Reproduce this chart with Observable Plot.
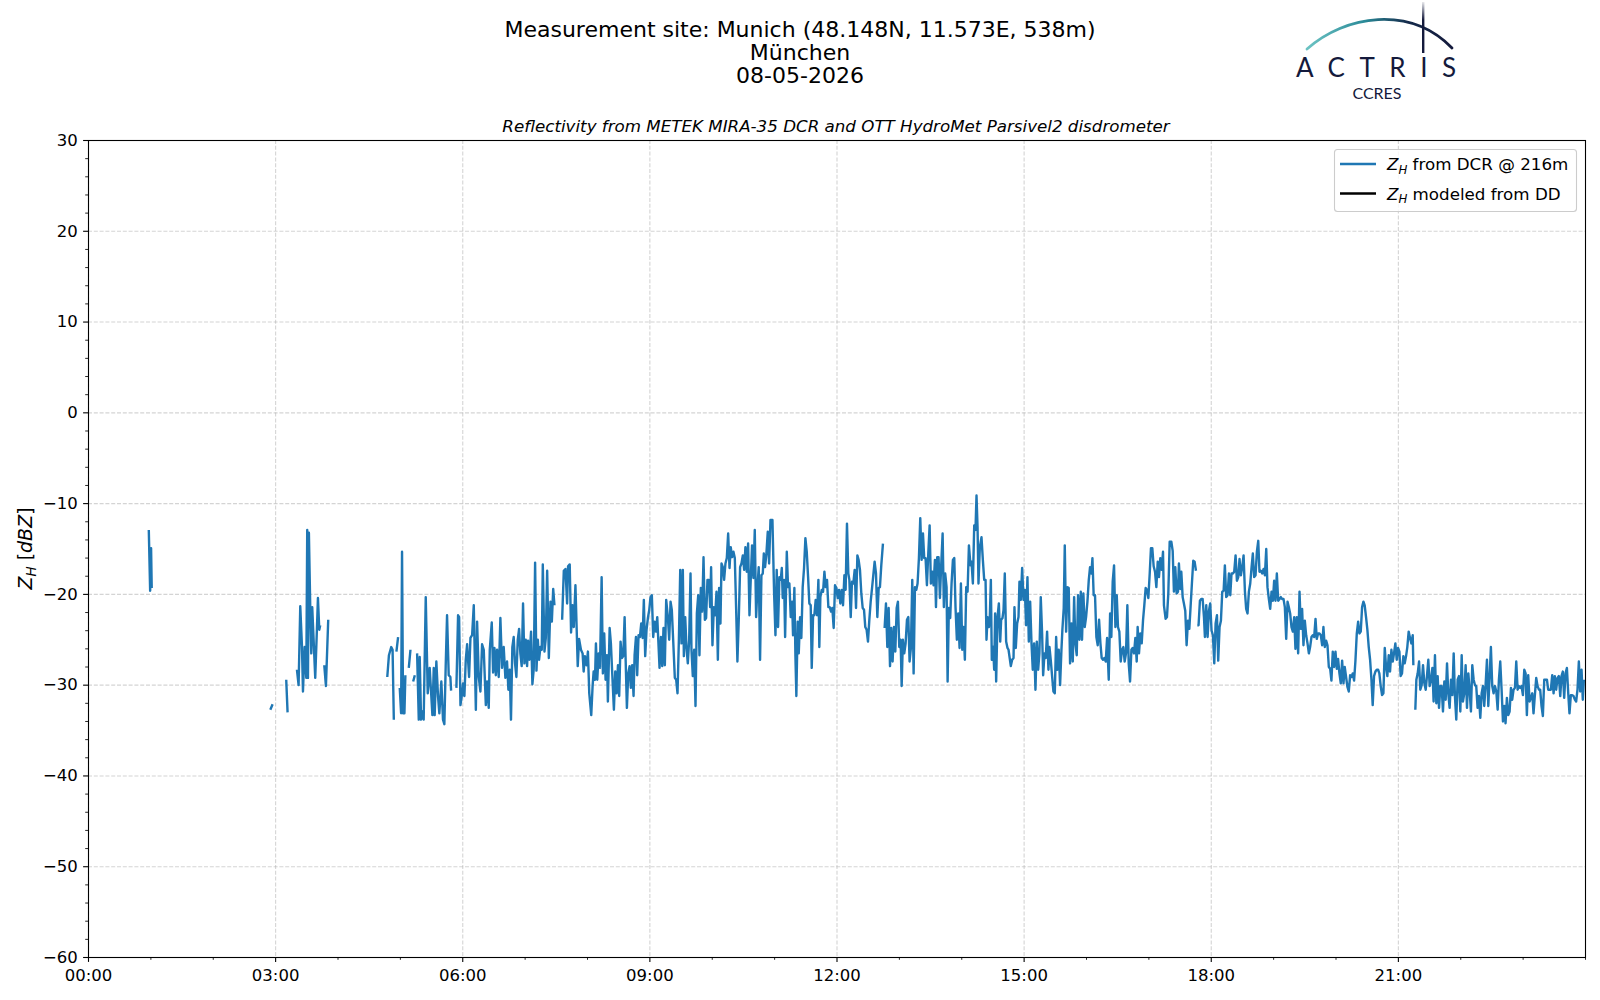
<!DOCTYPE html>
<html><head><meta charset="utf-8">
<script src="https://cdn.jsdelivr.net/npm/d3@7"></script>
<script src="https://cdn.jsdelivr.net/npm/@observablehq/plot@0.6"></script>
<style>
html,body{margin:0;padding:0;background:#fff;}
#chart{position:relative;width:1600px;height:1000px;}
</style></head><body><div id="chart"></div>
<script>
// ---------- texts ----------
const titleLines = ["Measurement site: Munich (48.148N, 11.573E, 538m)", "München", "08-05-2026"];
const subtitle = "Reflectivity from METEK MIRA-35 DCR and OTT HydroMet Parsivel2 disdrometer";
const legendLabels = [" from DCR @ 216m", " modeled from DD"];
const seriesColors = ["#1f77b4", "#000000"];
const logoWord = "ACTRIS";
const logoSub = "CCRES";

// ---------- ticks ----------
const xTickLabels = ["00:00","03:00","06:00","09:00","12:00","15:00","18:00","21:00"];
const xTickMinutes = [0,180,360,540,720,900,1080,1260];
const yTicks = [30,20,10,0,-10,-20,-30,-40,-50,-60];

// ---------- Z_H from DCR @ 216m: [minutes since 00:00 UTC, dBZ]; null = no data ----------
const dcr00to06 = [
[58.0,-12.9],[59.3,-19.6],[60.2,-14.9],[60.8,-19.3],[61.6,null],
[174.9,-32.7],[177.1,-32.1],[178.0,null],
[190.2,-29.4],[191.5,-33.0],[192.5,null],
[200.5,-28.3],[202.1,-30.0],[203.7,-21.3],[205.3,-25.6],[206.3,-30.7],[207.9,-25.8],[209.5,-29.2],[210.4,-12.9],[211.1,-29.2],[212.0,-13.2],[213.3,-21.4],[214.3,-26.5],[215.2,-21.4],[218.1,-29.2],[219.7,-23.9],[220.7,-20.4],[222.0,-23.9],[222.9,-23.4],[224.0,null],
[226.8,-27.8],[228.4,-30.1],[230.6,-22.8],[231.5,null],
[287.4,-29.1],[289.0,-26.7],[291.2,-25.8],[292.5,-26.1],[293.7,-33.8],[295.0,null],
[296.2,-26.3],[297.8,-24.7],[298.6,null],
[299.4,-30.3],[300.7,-33.1],[301.6,-15.3],[302.6,-33.1],[303.9,-33.1],[304.8,-28.9],[306.0,null],
[308.1,-28.1],[309.7,-26.1],[311.0,null],
[312.3,-29.6],[313.9,-28.9],[315.0,null],
[316.1,-26.5],[317.7,-33.8],[318.6,-26.9],[319.9,-33.8],[321.2,-32.9],[322.4,-33.8],[324.4,-20.3],[326.3,-30.9],[328.2,-28.1],[329.5,-30.7],[330.8,-33.3],[332.1,-28.1],[333.0,-33.3],[334.6,-27.4],[336.2,-31.2],[337.5,-33.1],[339.4,-29.6],[341.0,-33.8],[342.3,-34.3],[343.6,-27.9],[344.9,-22.3],[346.5,-28.9],[348.1,-29.1],[348.8,-30.6],[350.5,null],
[353.9,-30.3],[355.5,-22.3],[356.5,-22.5],[357.8,-32.2],[359.4,-30.9]
];
const dcr06to09 = [
[360.3,-29.8],[361.6,-31.2],[362.9,-27.2],[364.2,-25.5],[366.1,-29.1],[367.4,-24.8],[369.0,-24.5],[370.6,-21.2],[372.6,-32.7],[373.8,-23.0],[375.4,-29.1],[377.0,-30.7],[378.6,-25.5],[380.2,-26.1],[382.2,-32.2],[383.4,-29.6],[385.0,-32.5],[386.0,-26.1],[387.9,-23.1],[389.2,-28.6],[390.5,-25.9],[391.8,-28.9],[393.0,-26.1],[394.6,-29.1],[396.2,-22.6],[397.8,-28.1],[399.4,-25.8],[401.0,-29.2],[402.6,-27.4],[403.9,-30.5],[405.2,-28.3],[406.4,-33.8],[407.7,-25.8],[409.0,-24.7],[410.3,-27.6],[411.6,-29.1],[412.9,-25.0],[414.2,-23.8],[415.4,-26.5],[416.7,-27.9],[418.0,-21.0],[419.3,-27.6],[420.6,-25.0],[421.9,-27.9],[422.8,-25.1],[424.1,-27.2],[425.7,-24.1],[427.0,-29.9],[428.3,-28.2],[429.6,-16.5],[430.9,-28.4],[432.2,-25.0],[433.4,-27.2],[434.7,-25.8],[436.0,-26.1],[437.0,-16.7],[438.6,-26.3],[439.9,-24.8],[441.2,-17.4],[442.8,-27.0],[444.4,-20.8],[445.7,-23.0],[447.0,-19.4],[448.2,-21.2],[450.0,null],
[455.6,-22.8],[457.2,-17.4],[458.8,-17.2],[460.4,-21.0],[461.3,-16.9],[462.9,-16.7],[464.2,-24.2],[465.5,-21.2],[466.8,-23.6],[468.4,-19.0],[470.6,-27.9],[471.9,-24.9],
[473.7,-26.1],[475.3,-26.5],[476.3,-28.5],[477.5,-26.8],[479.1,-27.8],[480.4,-26.3],[481.7,-30.9],[483.6,-33.3],[484.9,-30.1],[485.9,-28.5],[487.2,-29.4],[488.1,-25.4],[489.4,-29.4],[490.7,-26.5],[492.0,-28.1],[493.6,-18.1],[494.8,-28.7],[496.1,-24.3],[497.4,-29.4],[498.7,-26.7],[499.6,-31.8],[501.3,-23.7],[502.5,-25.4],[503.8,-28.7],[505.4,-32.7],[506.7,-28.5],[508.0,-30.9],[509.3,-27.8],[510.5,-31.2],[511.8,-25.2],[513.1,-27.0],[514.4,-26.8],[515.7,-22.5],[516.6,-26.8],[517.9,-32.5],[519.2,-28.7],[520.5,-27.9],[521.7,-30.3],[523.0,-27.8],[524.3,-31.2],[525.3,-26.7],[526.6,-24.7],[527.8,-28.9],[529.1,-24.5],[530.4,-24.7],[531.7,-23.2],[533.0,-24.8],[534.2,-20.6],[535.5,-26.8],[536.8,-23.9],[538.1,-22.6],[539.4,-21.7]
];
const dcr09to12 = [
[540.6,-20.3],[541.9,-20.1],[543.2,-24.7],[544.5,-23.0],[545.8,-24.1],[547.1,-22.5],[548.0,-24.8],[549.3,-28.1],[550.6,-24.7],[551.9,-27.9],[553.1,-23.7],[554.4,-27.8],[555.7,-20.6],[557.3,-22.5],[558.6,-25.0],[559.9,-20.8],[561.1,-21.7],[562.4,-25.0],[564.0,-29.2],[565.3,-29.4],[566.6,-30.9],[567.9,-25.0],[569.2,-17.3],[570.4,-25.4],[571.7,-17.3],[572.7,-26.8],[574.0,-22.5],[575.2,-25.8],[576.5,-27.6],[577.8,-25.0],[579.1,-17.7],[580.0,-26.1],[581.3,-29.0],[582.6,-26.1],[583.9,-32.3],[585.2,-22.1],[586.5,-20.1],[587.7,-26.7],[589.0,-19.3],[590.3,-21.9],[591.6,-15.9],[592.9,-22.8],[594.1,-22.6],[595.4,-18.4],[596.7,-18.4],[598.0,-21.4],[598.9,-17.0],[600.2,-25.6],[601.5,-21.4],[602.8,-22.3],[604.1,-19.7],[605.4,-27.2],[606.6,-19.3],[607.9,-23.2],[608.9,-16.6],[610.2,-17.0],[611.4,-18.4],[612.7,-16.6],[614.0,-16.0],[615.3,-13.3],[616.6,-17.1],[617.8,-14.8],[619.1,-15.9],[620.4,-15.3],[621.7,-16.0],[623.0,-21.7],[624.2,-27.4],[625.5,-22.8],[626.8,-17.0],[628.1,-16.6],[629.4,-15.7],[630.7,-17.3],[631.9,-14.8],[633.2,-17.5],[634.5,-14.4],[635.8,-22.3],[637.1,-18.1],[638.3,-14.6],[639.6,-18.2],[640.9,-12.9],[642.2,-22.5],[643.5,-19.2],[644.7,-17.0],[646.0,-27.2],[647.3,-17.9],[648.6,-17.7],[649.6,-15.5],[650.8,-17.0],[652.1,-15.5],[653.4,-13.1],[654.7,-16.6],[656.0,-11.8],[657.9,-11.8],[659.5,-19.9],
[660.8,-24.5],[662.0,-17.3],[663.3,-23.6],[664.6,-18.1],[665.9,-18.4],[666.9,-17.1],[667.8,-20.4],[669.1,-18.4],[670.1,-24.7],[671.7,-15.3],[672.9,-19.2],[674.2,-18.8],[675.5,-22.5],[676.8,-20.8],[677.7,-24.5],[679.0,-19.3],[680.0,-26.8],[680.9,-31.2],[682.2,-23.0],[683.2,-26.5],[684.5,-22.5],[685.7,-24.8],[687.0,-19.2],[688.3,-17.1],[689.6,-13.8],[690.9,-15.3],[692.2,-18.1],[693.4,-21.0],[694.7,-21.2],[695.7,-28.1],[697.0,-22.3],[698.2,-22.3],[699.5,-20.6],[700.8,-22.3],[702.1,-18.4],[703.0,-25.8],[704.0,-20.3],[705.3,-19.5],[706.6,-19.7],[707.9,-17.5],[709.1,-19.2],[710.4,-18.4],[711.7,-21.4],[713.0,-21.4],[714.3,-21.9],[715.5,-21.5],[716.8,-23.7],[718.1,-19.0],[719.4,-19.3]
];
const dcr12to15 = [
[720.7,-20.4],[721.9,-19.5],[723.2,-21.0],[724.5,-19.5],[725.8,-21.2],[727.1,-17.9],[728.3,-19.5],[729.6,-12.2],[730.9,-17.7],[731.9,-18.4],[733.2,-22.5],[734.4,-18.6],[735.7,-18.8],[737.0,-17.3],[738.3,-21.5],[739.6,-15.7],[740.8,-16.2],[742.1,-17.3],[743.4,-19.9],[744.7,-21.5],[746.0,-21.7],[747.2,-23.6],[748.5,-23.9],[749.8,-25.2],[751.1,-22.8],[752.4,-20.8],[753.7,-19.3],[754.9,-17.9],[756.2,-16.4],[757.5,-17.7],[758.8,-22.5],[760.1,-19.3],[761.3,-19.2],[762.6,-16.8],[764.2,-14.4],[765.0,null],
[765.8,-23.7],[767.1,-21.0],[768.4,-25.8],[769.7,-21.5],[771.0,-27.9],[772.2,-23.7],[773.5,-27.4],[774.8,-23.6],[776.1,-26.3],[777.4,-21.5],[778.6,-20.8],[779.9,-25.8],[781.2,-25.0],[782.2,-30.1],[783.4,-25.0],[784.7,-26.5],[786.0,-25.4],[787.3,-22.8],[788.6,-22.5],[789.8,-27.4],[791.1,-25.9],[792.4,-18.4],[793.7,-28.7],[795.0,-19.2],[796.3,-19.5],[797.5,-18.8],[798.8,-16.0],[800.1,-11.6],[801.4,-16.2],[802.7,-13.3],[803.9,-16.0],[805.2,-16.0],[806.5,-19.0],[807.8,-15.5],[809.1,-12.4],[810.3,-18.8],[811.6,-17.5],[812.9,-19.0],[814.2,-16.2],[815.2,-21.4],[816.4,-15.9],[817.7,-15.9],[819.0,-20.4],[820.3,-16.6],[821.6,-13.3],[822.8,-21.4],[824.1,-17.7],[825.4,-19.2],[826.4,-29.6],[827.6,-21.5],[828.9,-22.6],[830.2,-18.8],[831.5,-16.2],[832.8,-16.0],[834.0,-21.4],[835.3,-25.0],[836.6,-22.1],[837.9,-25.9],[839.2,-18.8],[840.5,-26.1],[841.7,-23.6],[843.0,-27.2],[844.3,-19.2],[845.6,-19.7],[846.9,-14.6],
[848.4,-16.8],[849.4,-16.4],[850.7,-18.8],[852.0,-12.4],[853.2,-12.9],[854.2,-9.1],[855.2,-12.6],[856.1,-18.8],[857.4,-14.8],[859.0,-13.7],[860.3,-16.2],[861.6,-18.4],[862.9,-18.4],[863.8,-25.0],[864.8,-22.5],[866.1,-23.6],[867.0,-22.5],[868.0,-18.4],[868.9,-27.2],[870.2,-25.8],[871.2,-28.3],[872.1,-22.1],[873.1,-29.6],[874.4,-22.5],[875.7,-21.0],[877.0,-25.2],[877.9,-22.8],[879.2,-22.6],[880.2,-21.7],[881.4,-17.7],[882.7,-25.2],[884.0,-25.9],[885.0,-26.1],[887.2,-27.9],[888.5,-27.2],[889.8,-27.0],[890.7,-21.4],[892.0,-25.9],[893.3,-23.2],[894.6,-22.5],[895.5,-18.6],[896.8,-20.6],[898.1,-17.1],[899.4,-20.6]
];
const dcr15to18 = [
[900.7,-19.5],[901.9,-23.4],[903.2,-18.1],[904.5,-25.2],[905.8,-20.8],[907.1,-25.4],[908.3,-28.3],[909.6,-25.4],[910.9,-30.5],[912.2,-25.2],[913.5,-28.3],[914.7,-26.5],[916.0,-20.3],[917.3,-24.3],[918.3,-28.9],[919.6,-26.5],[920.8,-27.0],[922.1,-24.1],[923.4,-28.3],[924.4,-25.8],[925.6,-27.2],[926.9,-29.0],[928.2,-30.7],[929.5,-30.9],[930.8,-24.7],[932.0,-28.3],[933.3,-26.1],[934.6,-30.0],[935.9,-26.1],[936.8,-23.9],[938.1,-21.5],[939.1,-14.6],[940.4,-24.1],[941.7,-19.2],[942.9,-19.3],[944.2,-27.6],[945.5,-23.2],[946.8,-27.4],[948.1,-20.3],[949.3,-25.4],[950.6,-26.7],[951.9,-20.1],[953.2,-25.0],[954.5,-19.7],[955.7,-25.0],[957.0,-19.9],[958.3,-23.6],[959.6,-22.5],[960.9,-20.8],[962.2,-18.4],[963.4,-17.0],[964.7,-17.7],[965.7,-16.0],[966.9,-20.1],[968.2,-20.1],[969.5,-24.7],[970.8,-25.6],[972.1,-22.8],[973.4,-25.4],[974.6,-27.0],[975.9,-27.2],[977.2,-27.0],[978.5,-27.4],[979.8,-24.8],[981.4,-29.4],[982.7,-22.1],[983.9,-24.7],[985.2,-18.6],[986.5,-16.8],[987.8,-23.6],[989.1,-20.1],[990.3,-23.6],[991.6,-24.1],[992.9,-27.4],[994.2,-26.1],[995.5,-25.8],[996.7,-27.4],[998.0,-26.5],[999.3,-21.2],[1000.6,-27.6],[1001.9,-29.6],[1003.2,-26.1],[1004.4,-25.9],[1005.7,-26.5],[1007.0,-24.8],[1008.3,-27.4],[1009.2,-23.6],[1010.5,-26.5],[1011.8,-24.3],[1013.1,-25.4],[1014.4,-22.8],[1015.6,-21.2],[1016.9,-19.3],[1018.2,-19.5],[1019.5,-20.4],[1020.8,-17.7],[1022.0,-14.9],[1023.3,-14.9],[1024.6,-16.9],[1025.9,-17.5],[1027.2,-19.2],[1028.5,-16.4],[1029.7,-18.1],[1031.0,-16.0],[1032.3,-17.3],[1033.6,-15.3],[1034.5,-21.2],
[1036.1,-22.7],[1037.4,-22.5],[1038.7,-19.9],[1040.0,-14.2],[1041.6,-14.2],[1042.9,-15.2],[1044.1,-19.7],[1045.4,-17.0],[1046.7,-19.9],[1048.0,-19.7],[1048.9,-16.6],[1050.2,-19.4],[1051.2,-17.5],[1052.5,-20.3],[1053.7,-21.0],[1055.0,-21.8],[1056.3,-25.6],[1057.6,-22.9],[1058.9,-23.8],[1060.1,-21.4],[1061.4,-18.8],[1062.7,-16.3],[1064.0,-16.4],[1065.3,-17.4],[1066.0,null],
[1066.6,-23.4],[1067.8,-23.4],[1069.1,-20.7],[1070.4,-20.5],[1071.7,-20.5],[1073.0,-22.5],[1073.9,-24.7],[1075.2,-21.2],[1076.5,-24.7],[1077.8,-21.8],[1079.0,-21.0]
];
const dcr18to21 = [
[1080.3,-24.0],[1081.6,-24.5],[1082.9,-27.6],[1084.2,-23.2],[1085.5,-22.3],[1086.7,-27.3],[1088.0,-23.6],[1089.3,-22.9],[1090.6,-19.7],[1091.9,-19.6],[1093.1,-16.8],[1094.4,-20.3],[1095.7,-20.1],[1097.0,-17.7],[1098.3,-20.1],[1099.5,-17.7],[1100.8,-17.7],[1102.1,-17.5],[1103.4,-15.7],[1104.7,-18.5],[1106.0,-18.1],[1107.2,-16.1],[1108.5,-17.9],[1109.8,-17.0],[1111.1,-15.7],[1112.4,-19.7],[1113.6,-21.6],[1114.9,-22.1],[1116.2,-19.7],[1117.5,-18.8],[1118.8,-17.0],[1120.0,-15.5],[1121.3,-18.1],[1122.6,-17.9],[1123.9,-15.3],[1125.2,-14.1],[1126.4,-17.5],[1127.7,-17.4],[1129.0,-17.7],[1130.3,-17.2],[1131.6,-17.9],[1132.9,-15.0],[1134.1,-19.2],[1135.4,-20.5],[1136.7,-21.6],[1138.0,-19.7],[1139.3,-20.7],[1140.5,-18.5],[1141.8,-20.7],[1143.1,-17.7],[1144.4,-20.7],[1145.7,-20.5],[1146.9,-20.3],[1148.2,-20.5],[1149.5,-20.5],[1150.8,-21.4],[1152.1,-24.9],[1153.4,-20.8],[1154.6,-21.4],[1155.9,-22.1],[1157.2,-23.6],[1158.5,-24.1],[1159.8,-22.5],[1161.0,-26.0],[1162.3,-22.5],[1163.6,-26.5],[1164.9,-19.7],[1166.2,-23.8],[1167.4,-21.6],[1168.7,-25.6],[1170.0,-22.9],[1171.3,-24.5],[1172.6,-25.4],[1173.9,-26.5],[1175.1,-25.8],[1176.4,-24.7],[1177.7,-24.5],[1179.0,-24.7],[1180.3,-22.7],[1181.5,-24.9],[1182.8,-24.3],[1184.1,-24.3],[1185.4,-24.5],[1186.7,-25.6],[1187.9,-23.6],[1189.2,-25.8],[1190.5,-25.1],[1191.8,-25.6],[1193.1,-28.0],[1194.4,-28.2],[1195.6,-29.5],[1196.9,-26.3],[1198.2,-28.0],[1199.5,-26.3],[1200.8,-28.2],[1202.0,-27.1],[1203.3,-28.7],[1204.6,-29.8],[1205.9,-27.3],[1207.2,-29.8],[1208.4,-28.0],[1209.7,-29.1],[1211.0,-30.2],[1212.3,-30.7],[1213.6,-28.9],[1214.9,-29.1],[1216.1,-28.7],[1217.4,-29.5],[1218.7,-27.3],[1220.0,-24.3],[1221.3,-23.0],[1222.5,-24.3],
[1223.8,-24.1],[1225.1,-21.4],[1226.4,-20.8],[1227.6,-21.2],[1228.9,-22.5],[1230.2,-23.9],[1231.5,-25.8],[1232.8,-27.2],[1234.1,-29.4],[1235.3,-32.2],[1236.6,-29.0],[1237.9,-28.5],[1239.2,-28.3],[1240.5,-28.3],[1241.7,-28.7],[1243.0,-30.1],[1244.3,-31.1],[1245.6,-30.9],[1246.9,-25.9],[1248.1,-27.9],[1249.4,-29.0],[1250.7,-26.7],[1252.0,-28.5],[1253.3,-26.1],[1254.6,-27.4],[1255.8,-26.5],[1257.1,-25.4],[1258.4,-27.2],[1259.7,-25.9]
];
const dcr21to24 = [
[1261.0,-26.3],[1262.2,-29.0],[1263.5,-28.7],[1264.8,-26.8],[1266.1,-27.6],[1267.4,-26.8],[1268.6,-25.8],[1269.9,-24.1],[1271.2,-24.8],[1272.5,-25.4],[1273.8,-24.5],[1274.4,-27.8],[1275.4,null],
[1276.3,-32.7],[1277.3,-29.4],[1278.6,-28.7],[1279.9,-27.4],[1281.1,-30.5],[1282.4,-30.0],[1283.7,-27.8],[1285.0,-29.8],[1286.3,-30.5],[1287.5,-29.0],[1288.8,-27.2],[1290.1,-30.1],[1291.4,-29.4],[1292.7,-28.1],[1293.9,-31.8],[1295.2,-26.7],[1296.5,-32.0],[1297.8,-29.0],[1299.1,-32.5],[1300.4,-30.1],[1301.6,-30.1],[1302.9,-32.9],[1304.2,-29.6],[1305.5,-31.6],[1306.8,-27.6],[1308.0,-30.9],[1309.3,-32.5],[1310.6,-29.4],[1311.9,-31.1],[1313.2,-26.5],[1314.4,-31.2],[1315.7,-33.8],[1317.0,-29.4],[1318.3,-29.0],[1319.6,-32.9],[1320.9,-26.7],[1322.1,-31.8],[1323.4,-30.9],[1324.7,-27.8],[1326.0,-32.5],[1327.3,-28.7],[1328.5,-30.5],[1329.8,-32.9],[1331.1,-27.8],[1332.4,-29.4],[1333.7,-30.0],[1334.9,-30.1],[1336.2,-32.5],[1337.5,-31.2],[1338.8,-33.6],[1340.1,-30.9],[1341.4,-30.1],[1342.6,-32.3],[1343.9,-30.0],[1345.2,-27.2],[1346.5,-32.3],[1347.8,-29.0],[1349.0,-25.8],[1350.3,-30.1],[1351.6,-30.9],[1352.9,-30.1],[1354.2,-30.7],[1355.5,-32.7],[1356.7,-29.4],[1358.0,-27.4],[1359.3,-30.5],[1360.6,-34.0],[1361.9,-32.3],[1363.1,-34.2],[1364.4,-31.4],[1365.7,-33.3],[1367.0,-32.9],[1368.3,-30.3],[1369.5,-31.6],[1370.8,-30.5],[1372.1,-30.3],[1373.4,-27.4],[1374.7,-30.5],[1375.9,-30.1],[1377.2,-30.3],[1378.5,-30.1],[1379.8,-31.1],[1381.1,-28.3],[1382.4,-28.7],[1383.6,-33.3],[1384.9,-28.9],[1386.2,-31.8],[1387.5,-31.4],[1388.8,-30.9],[1390.0,-33.1],[1391.3,-31.1],[1392.6,-29.2],[1393.9,-30.1],[1395.2,-30.5],[1396.4,-30.5],[1397.7,-32.3],[1399.0,-33.4],[1400.3,-29.4],[1401.6,-29.4],[1402.9,-29.4],[1404.1,-30.5],[1405.4,-30.5],[1406.7,-30.5],[1408.0,-28.9],[1409.3,-30.9],[1410.5,-29.0],[1411.8,-30.5],[1413.1,-29.2],[1414.4,-29.0],[1415.7,-31.2],[1416.9,-29.0],[1418.2,-28.5],[1419.5,-31.4],[1420.8,-28.7],[1422.1,-28.1],[1423.4,-30.9],[1424.6,-33.1],[1425.9,-31.1],[1427.2,-31.1],[1428.5,-31.2],[1429.8,-31.6],[1431.0,-31.8],[1432.3,-30.5],[1433.6,-27.4],[1434.9,-30.7],[1436.2,-28.3],[1437.4,-31.6],[1438.4,-29.4]
];

// ---------- build table ----------
const dcr = [...dcr00to06, ...dcr06to09, ...dcr09to12, ...dcr12to15, ...dcr15to18, ...dcr18to21, ...dcr21to24]
  .map(([m, v]) => ({minute: m, zh: v}));

const xMinor = d3.range(0, 1441, 60).filter(m => !xTickMinutes.includes(m));
const yMinor = d3.range(-60, 31, 2).filter(v => !yTicks.includes(v));
const fmtY = v => (v < 0 ? "\u2212" + Math.abs(v) : String(v));
const font = "DejaVu Sans, Verdana, sans-serif";

const plot = Plot.plot({
  width: 1600, height: 1000,
  marginLeft: 88, marginRight: 15, marginTop: 140, marginBottom: 43,
  style: {fontFamily: font, fontSize: "16.5px", color: "black", background: "white", overflow: "visible"},
  x: {domain: [0, 1440], axis: null},
  y: {domain: [-60, 30], axis: null},
  marks: [
    Plot.gridX(xTickMinutes, {stroke: "#b0b0b0", strokeOpacity: 0.55, strokeWidth: 1.1, strokeDasharray: "4,1.8"}),
    Plot.gridY(yTicks, {stroke: "#b0b0b0", strokeOpacity: 0.55, strokeWidth: 1.1, strokeDasharray: "4,1.8"}),
    Plot.line(dcr, {x: "minute", y: "zh", stroke: seriesColors[0], strokeWidth: 2.4, strokeLinejoin: "round", strokeLinecap: "butt"}),
    Plot.frame({stroke: "black", strokeWidth: 1.1}),
    Plot.axisX(xTickMinutes, {anchor: "bottom", label: null, tickSize: 4.9, tickPadding: 7, strokeWidth: 1.1,
      fontSize: 16.5, tickFormat: m => xTickLabels[xTickMinutes.indexOf(m)]}),
    Plot.axisX(xMinor, {anchor: "bottom", label: null, tickSize: 2.8, strokeWidth: 0.85, tickFormat: () => ""}),
    Plot.axisY(yTicks, {anchor: "left", label: null, tickSize: 4.9, tickPadding: 5.8, strokeWidth: 1.1,
      fontSize: 16.5, tickFormat: fmtY}),
    Plot.axisY(yMinor, {anchor: "left", label: null, tickSize: 2.8, strokeWidth: 0.85, tickFormat: () => ""})
  ]
});
document.getElementById("chart").appendChild(plot);

// ---------- annotations (titles, y label, legend, logo) ----------
const svg = d3.select(plot);
const g = svg.append("g").attr("font-family", font).attr("fill", "black");

// title block
titleLines.forEach((line, i) => {
  g.append("text").attr("x", 800).attr("y", 37 + i * 23).attr("text-anchor", "middle").attr("font-size", 22).text(line);
});
// axes title
g.append("text").attr("x", 836).attr("y", 131.5).attr("text-anchor", "middle").attr("font-size", 16.7)
  .attr("font-style", "italic").text(subtitle);

// y label: Z_H [dBZ]
const yl = g.append("text").attr("transform", "translate(31.5,548.5) rotate(-90)")
  .attr("text-anchor", "middle").attr("font-size", 19);
yl.append("tspan").attr("font-style", "italic").text("Z");
yl.append("tspan").attr("font-style", "italic").attr("font-size", 13.5).attr("dy", 4).text("H");
yl.append("tspan").attr("dy", -4).text(" [");
yl.append("tspan").attr("font-style", "italic").text("dBZ");
yl.append("tspan").text("]");

// legend
g.append("rect").attr("x", 1334.5).attr("y", 149.5).attr("width", 242).attr("height", 62).attr("rx", 3)
  .attr("fill", "white").attr("fill-opacity", 0.8).attr("stroke", "#cccccc").attr("stroke-width", 1.1);
legendLabels.forEach((lab, i) => {
  const yy = 164 + i * 29.5;
  g.append("line").attr("x1", 1340).attr("x2", 1376).attr("y1", yy).attr("y2", yy)
    .attr("stroke", seriesColors[i]).attr("stroke-width", 2.3);
  const t = g.append("text").attr("x", 1387).attr("y", yy + 6).attr("font-size", 16.7).attr("text-anchor", "start");
  t.append("tspan").attr("font-style", "italic").text("Z");
  t.append("tspan").attr("font-style", "italic").attr("font-size", 11.8).attr("dy", 3.5).text("H");
  t.append("tspan").attr("dy", -3.5).text(lab);
});

// ACTRIS / CCRES logo
const defs = svg.append("defs");
const lg = defs.append("linearGradient").attr("id", "arcGrad").attr("x1", "0").attr("x2", "1").attr("y1", "0").attr("y2", "0");
lg.append("stop").attr("offset", "0%").attr("stop-color", "#6cc3c3");
lg.append("stop").attr("offset", "40%").attr("stop-color", "#2a8a98");
lg.append("stop").attr("offset", "70%").attr("stop-color", "#15294a");
lg.append("stop").attr("offset", "100%").attr("stop-color", "#141a3c");
const vg = defs.append("linearGradient").attr("id", "vGrad").attr("x1", "0").attr("x2", "0").attr("y1", "0").attr("y2", "1");
vg.append("stop").attr("offset", "0%").attr("stop-color", "#141a3c").attr("stop-opacity", 0.1);
vg.append("stop").attr("offset", "35%").attr("stop-color", "#141a3c").attr("stop-opacity", 1);
vg.append("stop").attr("offset", "100%").attr("stop-color", "#141a3c").attr("stop-opacity", 1);
const logo = svg.append("g");
logo.append("path").attr("d", "M1307,49 C1345,15 1410,5 1452,48").attr("fill", "none")
  .attr("stroke", "url(#arcGrad)").attr("stroke-width", 2.8).attr("stroke-linecap", "round");
logo.append("rect").attr("x", 1422).attr("y", 2).attr("width", 2.4).attr("height", 51).attr("fill", "url(#vGrad)");
logo.append("text").attr("x", 1296).attr("y", 77).attr("text-anchor", "start").attr("font-family", "Lato, 'Open Sans', sans-serif")
  .attr("font-size", 26).attr("letter-spacing", 14.5).attr("fill", "#141a3c").text(logoWord);
logo.append("text").attr("x", 1377).attr("y", 98.5).attr("text-anchor", "middle").attr("font-family", "Lato, 'Open Sans', sans-serif")
  .attr("font-size", 16).attr("fill", "#141a3c").text(logoSub);
</script></body></html>
